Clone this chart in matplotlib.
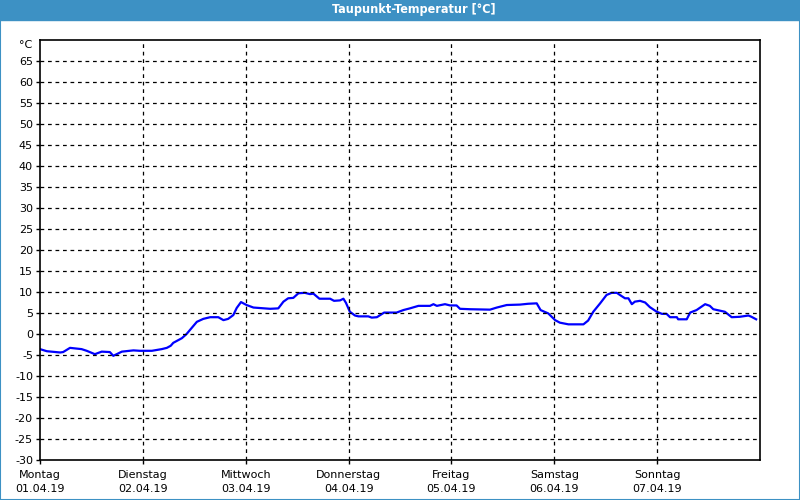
import matplotlib
matplotlib.use("Agg")
from matplotlib import pyplot as plt
from matplotlib.patches import Rectangle
import numpy as np

# dew point readings, hours since Monday 00:00
hours = [0, 1.6, 4.7, 5.4, 7.0, 9.7, 10.9, 12.8, 14.4, 16.3, 17.1, 19.1, 21.8, 23.3,
         26.1, 28.4, 29.6, 30.5, 31.1, 33.1, 34.2, 36.6, 38.1, 39.7, 41.6, 42.8, 43.9,
         45.1, 45.9, 46.9, 48.2, 49.8, 53.7, 55.6, 56.8, 57.9, 59.1, 60.3, 61.8, 63.0,
         63.8, 65.2, 67.7, 68.6, 70.0, 70.8, 71.4, 72.3, 73.5, 74.3, 76.6, 77.4, 78.6,
         80.3, 83.2, 84.8, 86.3, 88.3, 91.0, 91.8, 92.6, 94.5, 95.7, 97.2, 98.0, 100.3,
         105.0, 106.6, 108.9, 112.0, 113.9, 115.9, 116.8, 118.6, 120.2, 121.3, 123.3,
         126.8, 127.9, 129.1, 130.7, 132.2, 133.4, 134.6, 135.3, 136.5, 137.3, 138.1,
         138.8, 140.0, 141.2, 142.3, 143.9, 145.1, 146.2, 147.0, 148.6, 148.9, 150.9,
         151.7, 153.2, 155.2, 156.3, 157.1, 159.8, 161.4, 163.3, 165.3, 166.0, 167.1]
dewpoint = [-3.6, -4.1, -4.4, -4.3, -3.3, -3.6, -4.0, -4.8, -4.2, -4.3, -5.2, -4.2, -3.9, -4.0,
            -4.0, -3.6, -3.3, -2.8, -2.1, -1.0, 0.0, 2.9, 3.6, 4.0, 4.0, 3.3, 3.6,
            4.5, 6.2, 7.6, 6.9, 6.3, 6.0, 6.1, 7.7, 8.5, 8.6, 9.7, 9.8, 9.5,
            9.6, 8.4, 8.4, 7.9, 8.0, 8.4, 7.4, 5.3, 4.4, 4.2, 4.2, 3.9, 4.0,
            5.1, 5.1, 5.7, 6.1, 6.7, 6.7, 7.1, 6.7, 7.1, 6.8, 6.8, 6.0, 5.9,
            5.8, 6.3, 6.9, 7.0, 7.2, 7.3, 5.7, 4.9, 3.3, 2.7, 2.3,
            2.3, 3.2, 5.3, 7.3, 9.3, 9.8, 9.8, 9.3, 8.5, 8.5, 7.1,
            7.7, 7.9, 7.5, 6.4, 5.3, 4.8, 4.8, 4.0, 4.0, 3.5, 3.5,
            5.1, 5.7, 7.1, 6.7, 5.9, 5.3, 4.0, 4.1, 4.4, 4.1, 3.5]

days = ['Montag', 'Dienstag', 'Mittwoch', 'Donnerstag', 'Freitag', 'Samstag', 'Sonntag']
dates = ['01.04.19', '02.04.19', '03.04.19', '04.04.19', '05.04.19', '06.04.19', '07.04.19']
y_ticks = list(range(-30, 70, 5))

blue_bar = '#3d91c4'

f = plt.figure(figsize=(8, 5), dpi=100)
f.patch.set_facecolor('white')

# window title bar and border
f.add_artist(Rectangle((0, 0.96), 1, 0.04, transform=f.transFigure, color=blue_bar, zorder=0))
f.add_artist(Rectangle((0.0006, 0.001), 0.9988, 0.998, transform=f.transFigure, fill=False,
                       edgecolor=blue_bar, lw=1.5, zorder=0))
f.text(0.5175, 0.98, 'Taupunkt-Temperatur [°C]', color='white', fontsize=9, fontweight='bold',
       ha='center', va='center', family='DejaVu Sans', stretch='condensed')

ax1 = f.add_axes([0.05, 0.08, 0.90, 0.84])
ax1.plot(hours, dewpoint, color='#0000ff', lw=1.6)

ax1.set_xlim(0, 168)
ax1.set_ylim(-30, 70)
ax1.set_yticks(y_ticks)
ax1.set_yticklabels([str(v) for v in y_ticks], fontsize=8)
ax1.set_xticks([24 * i for i in range(7)])
ax1.set_xticklabels([d + '\n' + dt for d, dt in zip(days, dates)], fontsize=8, linespacing=1.55)
ax1.tick_params(axis='both', length=3, width=1, color='black', pad=2)
ax1.tick_params(axis='x', pad=4)

for v in y_ticks[1:]:
    ax1.axhline(v, color='black', lw=0.9, ls=(0, (3, 3)))
for i in range(1, 7):
    ax1.axvline(24 * i, color='black', lw=0.9, ls=(0, (3, 3)))

for s in ax1.spines.values():
    s.set_linewidth(1.2)

f.text(0.04, 0.91, '°C', fontsize=8, ha='right', va='center')

plt.savefig('out.png', dpi=100)
